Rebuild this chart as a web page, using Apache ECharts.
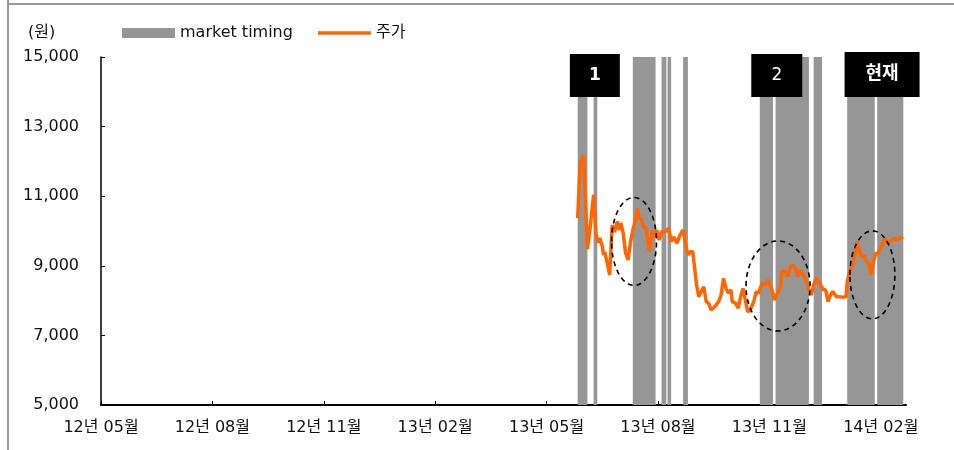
<!DOCTYPE html>
<html>
<head>
<meta charset="utf-8">
<script src="https://cdn.jsdelivr.net/npm/echarts@6/dist/echarts.min.js"></script>
<style>
html, body { margin: 0; padding: 0; background: #fff; }
#chart { width: 954px; height: 450px; }
</style>
</head>
<body>
<div id="chart"></div>
<script>
// x축 눈금 (3개월 간격, 12년 05월부터)
var tickLabels = ['12년 05월', '12년 08월', '12년 11월', '13년 02월', '13년 05월', '13년 08월', '13년 11월', '14년 02월'];
var yTicks = [5000, 7000, 9000, 11000, 13000, 15000];

// 주가
var priceDates = [
    '2013-05-27', '2013-05-29', '2013-06-01', '2013-06-04', '2013-06-06', '2013-06-09', '2013-06-11', '2013-06-13', '2013-06-14', '2013-06-16',
    '2013-06-17', '2013-06-18', '2013-06-20', '2013-06-22', '2013-06-24', '2013-06-26', '2013-06-28', '2013-06-30', '2013-07-01', '2013-07-03',
    '2013-07-05', '2013-07-07', '2013-07-09', '2013-07-11', '2013-07-13', '2013-07-15', '2013-07-16', '2013-07-18', '2013-07-20', '2013-07-22',
    '2013-07-23', '2013-07-25', '2013-07-27', '2013-07-28', '2013-07-30', '2013-07-31', '2013-08-02', '2013-08-04', '2013-08-07', '2013-08-10',
    '2013-08-12', '2013-08-14', '2013-08-17', '2013-08-19', '2013-08-22', '2013-08-24', '2013-08-26', '2013-08-28', '2013-08-30', '2013-09-01',
    '2013-09-02', '2013-09-04', '2013-09-06', '2013-09-08', '2013-09-10', '2013-09-12', '2013-09-14', '2013-09-17', '2013-09-20', '2013-09-22',
    '2013-09-24', '2013-09-26', '2013-09-28', '2013-09-30', '2013-10-01', '2013-10-04', '2013-10-06', '2013-10-08', '2013-10-10', '2013-10-13',
    '2013-10-14', '2013-10-16', '2013-10-19', '2013-10-21', '2013-10-23', '2013-10-26', '2013-10-28', '2013-10-31', '2013-11-02', '2013-11-04',
    '2013-11-05', '2013-11-07', '2013-11-10', '2013-11-11', '2013-11-13', '2013-11-16', '2013-11-18', '2013-11-20', '2013-11-22', '2013-11-24',
    '2013-11-26', '2013-11-28', '2013-11-30', '2013-12-03', '2013-12-05', '2013-12-07', '2013-12-09', '2013-12-12', '2013-12-15', '2013-12-17',
    '2013-12-19', '2013-12-21', '2013-12-23', '2013-12-26', '2013-12-28', '2013-12-31', '2014-01-03', '2014-01-04', '2014-01-06', '2014-01-09',
    '2014-01-11', '2014-01-12', '2014-01-14', '2014-01-16', '2014-01-18', '2014-01-20', '2014-01-22', '2014-01-24', '2014-01-25', '2014-01-26',
    '2014-01-28', '2014-01-30', '2014-01-31', '2014-02-02', '2014-02-04', '2014-02-06', '2014-02-08', '2014-02-09', '2014-02-11', '2014-02-13',
    '2014-02-15', '2014-02-18'
];
var prices = [
    10370, 11950, 12180, 9480, 10030, 11040, 9890, 9660, 9800, 9570,
    9310, 9400, 9080, 8740, 10170, 9970, 10270, 10030, 10230, 9940,
    9370, 9170, 9660, 10030, 10270, 10650, 10370, 10350, 10120, 10090,
    9840, 9410, 10000, 9980, 9840, 10030, 9740, 9980, 9980, 10080,
    9690, 9830, 9650, 9860, 10030, 9650, 9310, 9400, 9410, 8830,
    8500, 8110, 8260, 8400, 7970, 7920, 7730, 7830, 7970, 8160,
    8640, 8350, 8210, 8310, 7970, 7920, 7780, 8110, 8350, 7830,
    7680, 7730, 7970, 8260, 8210, 8500, 8450, 8590, 8400, 8210,
    8020, 8160, 8400, 8790, 8880, 8690, 8970, 9020, 8930, 8690,
    8880, 8740, 8640, 8310, 8160, 8450, 8640, 8500, 8310, 8310,
    7970, 8160, 8260, 8110, 8110, 8100, 8110, 8540, 8830, 9070,
    9450, 9690, 9450, 9260, 9310, 9120, 9070, 8740, 8690, 9120,
    9360, 9360, 9450, 9600, 9790, 9650, 9690, 9740, 9790, 9740,
    9790, 9820
];

// market timing 구간
var timingStart = ['2013-05-27', '2013-06-09', '2013-07-11', '2013-08-04', '2013-08-09', '2013-08-22', '2013-10-24', '2013-11-06', '2013-12-07', '2014-01-04', '2014-01-29'];
var timingEnd   = ['2013-06-04', '2013-06-12', '2013-07-30', '2013-08-08', '2013-08-12', '2013-08-26', '2013-11-04', '2013-12-03', '2013-12-14', '2014-01-27', '2014-02-18'];

// 구간 표시
var boxDates = ['2013-06-10', '2013-11-07', '2014-02-02'];
var boxTexts = ['1', '2', '현재'];
var circleDates = ['2013-07-12', '2013-11-08', '2014-01-25'];
var circleValues = [9700, 8420, 8740];

var FONT = 'DejaVu Sans, "Noto Sans CJK KR", sans-serif';

function toMonths(s) {
    var p = s.split('-').map(Number);
    var dim = new Date(p[0], p[1], 0).getDate();
    return (p[0] - 2012) * 12 + (p[1] - 5) + (p[2] - 1) / dim;
}

var tickValues = tickLabels.map(function (l, i) { return i * 3; });
var priceData = priceDates.map(function (d, i) { return [toMonths(d), prices[i]]; });
var timingData = timingStart.map(function (d, i) { return [toMonths(d), toMonths(timingEnd[i])]; });
var yMin = yTicks[0], yMax = yTicks[yTicks.length - 1];

var chart = echarts.init(document.getElementById('chart'));
var option = {
    animation: false,
    grid: { left: 101, right: 48, top: 57, bottom: 45 },
    legend: {
        left: 122,
        top: 25,
        padding: 0,
        itemWidth: 53,
        itemHeight: 10,
        itemGap: 25,
        textStyle: { fontFamily: FONT, fontSize: 16, color: '#111' },
        data: [
            { name: 'market timing', icon: 'rect' },
            // 얇은 선 모양 아이콘 (위아래 점은 크기 맞춤용)
            { name: '주가', icon: 'path://M0,0L0.01,0L0,0Z M0,3.2H53V6.8H0Z M0,10L0.01,10L0,10Z', itemStyle: { color: '#ff6600' } }
        ]
    },
    xAxis: {
        type: 'value',
        min: 0,
        max: 21.68,
        interval: 3,
        splitLine: { show: false },
        axisLine: { lineStyle: { color: '#000', width: 2 } },
        axisTick: { inside: true, length: 4, customValues: tickValues, lineStyle: { color: '#000' } },
        axisLabel: {
            customValues: tickValues,
            margin: 15,
            fontFamily: FONT,
            fontSize: 16,
            color: '#111',
            formatter: function (v) { return tickLabels[Math.round(v / 3)]; }
        }
    },
    yAxis: {
        type: 'value',
        min: yMin,
        max: yMax,
        interval: 2000,
        splitLine: { show: false },
        axisLine: { show: true, lineStyle: { color: '#000', width: 1.5 } },
        axisTick: { show: true, inside: true, length: 4, lineStyle: { color: '#000' } },
        axisLabel: {
            margin: 22,
            fontFamily: FONT,
            fontSize: 16,
            color: '#111',
            formatter: function (v) { return v.toLocaleString('en-US'); }
        }
    },
    series: [
        {
            name: 'market timing',
            type: 'custom',
            itemStyle: { color: '#969696' },
            encode: { x: [0, 1] },
            data: timingData,
            z: 1,
            renderItem: function (params, api) {
                var p0 = api.coord([api.value(0), yMax]);
                var p1 = api.coord([api.value(1), yMin]);
                return {
                    type: 'rect',
                    shape: { x: p0[0], y: p0[1], width: p1[0] - p0[0], height: p1[1] - p0[1] },
                    style: { fill: '#969696' }
                };
            }
        },
        {
            name: '주가',
            type: 'line',
            data: priceData,
            symbol: 'none',
            z: 3,
            itemStyle: { color: '#ff6600' },
            lineStyle: { color: '#ff6600', width: 3.5 }
        }
    ]
};
chart.setOption(option);

// 박스 / 점선 원 (데이터 좌표로 위치)
var boxW = [50, 51, 75];
var graphics = [
    { type: 'line', shape: { x1: 8, y1: 0, x2: 8, y2: 450 }, style: { stroke: '#999', lineWidth: 2 }, z: 10 },
    { type: 'line', shape: { x1: 8, y1: 4, x2: 954, y2: 4 }, style: { stroke: '#999', lineWidth: 2 }, z: 10 },
    { type: 'text', left: 28, top: 25, style: { text: '(원)', font: '16px ' + FONT, fill: '#111' }, z: 10 }
];
var topY = chart.convertToPixel({ gridIndex: 0 }, [0, yMax])[1];
boxDates.forEach(function (d, i) {
    var cx = chart.convertToPixel({ gridIndex: 0 }, [toMonths(d), yMax])[0];
    var h = i === 2 ? 45 : 43;
    var y0 = topY - (i === 2 ? 5 : 3);
    graphics.push({
        type: 'rect',
        shape: { x: cx - boxW[i] / 2, y: y0, width: boxW[i], height: h },
        style: { fill: '#000' },
        z: 20
    });
    graphics.push({
        type: 'text',
        x: cx,
        y: y0 + h / 2,
        style: {
            text: boxTexts[i],
            font: (i === 1 ? 'normal ' : 'bold ') + (i === 2 ? '18px ' : '17px ') + FONT,
            fill: '#fff',
            align: 'center',
            verticalAlign: 'middle'
        },
        z: 21
    });
});
var radii = [[22.5, 44], [32, 45], [22.5, 44]];
circleDates.forEach(function (d, i) {
    var p = chart.convertToPixel({ gridIndex: 0 }, [toMonths(d), circleValues[i]]);
    graphics.push({
        type: 'ellipse',
        shape: { cx: p[0], cy: p[1], rx: radii[i][0], ry: radii[i][1] },
        style: { fill: 'none', stroke: '#000', lineWidth: 1.6, lineDash: [5, 4] },
        z: 15
    });
});
chart.setOption({ graphic: graphics });
</script>
</body>
</html>
